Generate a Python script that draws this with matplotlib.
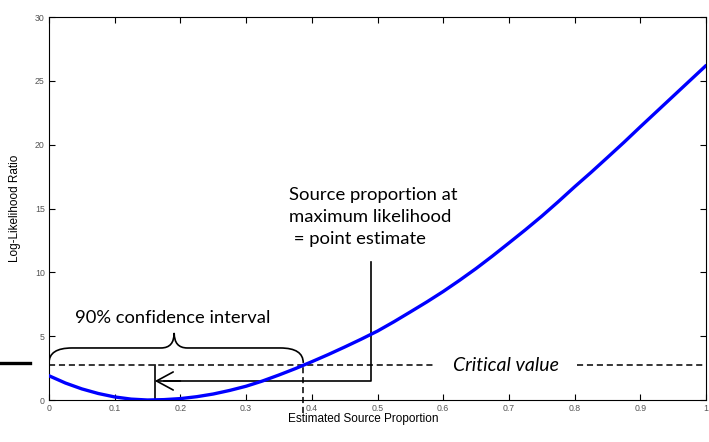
import matplotlib.pyplot as plt
from matplotlib.path import Path
from matplotlib.patches import PathPatch
from matplotlib.lines import Line2D

proportion = [0.000, 0.025, 0.050, 0.075, 0.100, 0.125, 0.150, 0.175, 0.200,
              0.225, 0.250, 0.275, 0.300, 0.325, 0.350, 0.375, 0.400, 0.425,
              0.450, 0.475, 0.500, 0.525, 0.550, 0.575, 0.600, 0.625, 0.650,
              0.675, 0.700, 0.725, 0.750, 0.775, 0.800, 0.825, 0.850, 0.875,
              0.900, 0.925, 0.950, 0.975, 1.000]
llr = [1.90, 1.33, 0.87, 0.51, 0.24, 0.07, 0.00, 0.03, 0.11,
       0.26, 0.47, 0.75, 1.08, 1.49, 1.96, 2.46, 3.00, 3.56,
       4.15, 4.76, 5.40, 6.13, 6.90, 7.68, 8.50, 9.38, 10.30,
       11.28, 12.30, 13.33, 14.40, 15.53, 16.70, 17.83, 19.00, 20.18,
       21.40, 22.60, 23.80, 25.00, 26.20]
x_ticks = [0, 0.1, 0.2, 0.3, 0.4, 0.5, 0.6, 0.7, 0.8, 0.9, 1]
x_tick_labels = ['0', '0.1', '0.2', '0.3', '0.4', '0.5', '0.6', '0.7', '0.8', '0.9', '1']
y_ticks = [0, 5, 10, 15, 20, 25, 30]
critical = 2.706
ci_low, ci_high = 0.0, 0.387
mle = 0.161

fig = plt.figure(figsize=(7.09, 4.42), dpi=100)
ax = fig.add_axes([0.0691, 0.095, 0.9267, 0.8665])

ax.plot(proportion, llr, color='#0000ff', lw=2.4, solid_capstyle='round',
        solid_joinstyle='round', zorder=5)

ax.set_xlim(0, 1)
ax.set_ylim(0, 30)
ax.set_xticks(x_ticks)
ax.set_xticklabels(x_tick_labels)
ax.set_yticks(y_ticks)
ax.tick_params(direction='in', top=True, right=True, length=4, width=0.8,
               labelsize=6.3, labelcolor='#555555', pad=3)
for s in ax.spines.values():
    s.set_linewidth(0.8)
ax.set_xlabel('Estimated Source Proportion', fontsize=8.5, family='Liberation Sans', labelpad=1)
ax.set_ylabel('Log-Likelihood Ratio', fontsize=8.5, family='Liberation Sans', labelpad=10)
ax.xaxis.set_label_coords(0.478, -0.035)
for lb in ax.get_xticklabels() + ax.get_yticklabels():
    lb.set_family('Liberation Sans')

dash = dict(color='black', lw=1.1, ls=(0, (4, 2.5)))
# critical value line, broken around its label
ax.plot([0, 0.587], [critical, critical], **dash)
ax.plot([0.804, 1], [critical, critical], **dash)
ax.text(0.695, critical, 'Critical value', style='italic', fontsize=14,
        family='Lato', ha='center', va='center')

# confidence interval bounds
ax.plot([ci_low, ci_low], [0, critical], **dash)
ax.plot([ci_high, ci_high], [-1, critical], clip_on=False, **dash)

# curly brace over the interval
mid = (ci_low + ci_high) / 2 - 0.003
y0, y1, y2 = critical + 0.2, critical + 1.37, critical + 2.55
r = 0.035
rt = 0.02
verts = [(ci_low, y0), (ci_low, y1), (ci_low + r, y1),
         (mid - rt, y1), (mid, y1), (mid, y2),
         (mid, y1), (mid + rt, y1),
         (ci_high - r, y1), (ci_high, y1), (ci_high, y0)]
codes = [Path.MOVETO, Path.CURVE3, Path.CURVE3,
         Path.LINETO, Path.CURVE3, Path.CURVE3,
         Path.CURVE3, Path.CURVE3,
         Path.LINETO, Path.CURVE3, Path.CURVE3]
ax.add_patch(PathPatch(Path(verts, codes), fill=False, lw=1.2, color='black'))
ax.text(0.188, 6.42, '90% confidence interval', fontsize=13.2,
        family='Lato', ha='center', va='center')

# arrow from annotation to the point estimate
ax.plot([0.49, 0.49, 0.175], [10.8, 1.49, 1.49], color='black', lw=1.2)
ax.annotate('', xy=(mle, 1.49), xytext=(0.2, 1.49),
            arrowprops=dict(arrowstyle='->,head_length=1.2,head_width=0.65',
                            color='black', lw=1.2, mutation_scale=10,
                            shrinkA=0, shrinkB=0))
ax.plot([mle, mle], [0, critical], color='black', lw=1.2)
ax.text(0.366, 16.7, 'Source proportion at\nmaximum likelihood\n = point estimate',
        fontsize=13.3, family='Lato', ha='left', va='top', linespacing=1.45)

# stray mark at left edge
fig.add_artist(Line2D([0, 30 / 709], [1 - 363 / 442, 1 - 363 / 442],
                      color='black', lw=2.4))

fig.savefig('out.png', dpi=100)
